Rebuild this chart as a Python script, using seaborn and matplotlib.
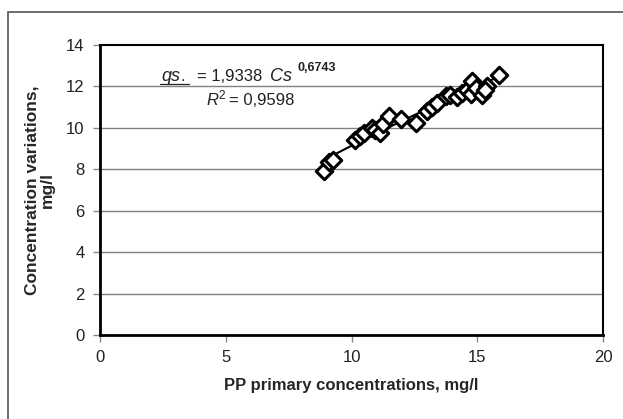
import numpy as np
import pandas as pd
import matplotlib
matplotlib.use("Agg")
import matplotlib.pyplot as plt
import seaborn as sns
from matplotlib.lines import Line2D
from matplotlib.patches import Rectangle

# ---- data ----
cs_primary = [8.90, 9.10, 9.25, 10.15, 10.35, 10.50, 10.80, 10.95, 11.15, 11.25,
              11.50, 11.95, 12.55, 13.00, 13.20, 13.40, 13.75, 13.90, 14.20, 14.40,
              14.60, 14.75, 14.80, 14.95, 15.20, 15.40, 15.30, 15.85]
qs_variation = [7.90, 8.35, 8.45, 9.40, 9.60, 9.75, 10.00, 9.90, 9.75, 10.20,
                10.55, 10.45, 10.25, 10.80, 11.00, 11.20, 11.55, 11.60, 11.50, 11.70,
                11.85, 11.65, 12.25, 11.90, 11.60, 12.00, 11.85, 12.55]
fit_a = 1.9338
fit_b = 0.6743
r2_text = "0,9598"
x_ticks = [0, 5, 10, 15, 20]
y_ticks = [0, 2, 4, 6, 8, 10, 12, 14]
x_label = "PP primary concentrations, mg/l"
y_label = "Concentration variations,\nmg/l"

df = pd.DataFrame({"x": cs_primary, "y": qs_variation})
xs = np.linspace(min(cs_primary), max(cs_primary), 60)
trend = pd.DataFrame({"x": xs, "y": fit_a * xs ** fit_b})

sns.set_theme(style="white")
plt.rcParams["font.family"] = ["Liberation Sans", "DejaVu Sans"]

W, H = 623, 419
fig = plt.figure(figsize=(W / 100, H / 100), dpi=100)
ax = fig.add_axes([100 / W, 1 - 335 / H, (603 - 100) / W, (335 - 45) / H])

# outer chart frame
fig.patches.append(Rectangle((8 / W, -0.05), 1.2, 1 - 12 / H + 0.05,
                             transform=fig.transFigure, fill=False,
                             edgecolor="#555555", linewidth=1.2))

for yv in y_ticks[1:-1]:
    ax.axhline(yv, color="#808080", linewidth=1.0, zorder=0)

sns.lineplot(data=trend, x="x", y="y", ax=ax, color="black", linewidth=1.5,
             zorder=2, legend=False)
sns.scatterplot(data=df, x="x", y="y", ax=ax, marker="D", s=70,
                facecolor="white", edgecolor="black", linewidth=2.2,
                zorder=3, legend=False)

ax.set_xlim(0, 20)
ax.set_ylim(0, 14)
ax.set_xticks(x_ticks)
ax.set_yticks(y_ticks)
ax.set_xticklabels([str(v) for v in x_ticks], fontsize=12, color="#222222")
ax.set_yticklabels([str(v) for v in y_ticks], fontsize=12, color="#222222")
ax.tick_params(axis="both", direction="out", length=5, width=1, color="#888888",
               bottom=True, left=True, pad=6)
ax.set_xlabel(x_label, fontsize=12, fontweight="bold", labelpad=9)
ax.set_ylabel(y_label, fontsize=12.5, fontweight="bold", labelpad=8,
              linespacing=1.0)
for side, sp in ax.spines.items():
    sp.set_visible(True)
    sp.set_color("black")
    sp.set_linewidth(2.0 if side in ("left", "bottom") else 1.5)

# equation text
def fx(px):
    return px / W

def fy(py):
    return 1 - py / H

fig.text(fx(161), fy(81), "qs", fontsize=13, style="italic", color="#222222")
fig.text(fx(180), fy(81), ".", fontsize=12, color="#222222")
fig.add_artist(Line2D([fx(160), fx(189)], [fy(84), fy(84)],
                      transform=fig.transFigure, color="#222222", linewidth=0.9))
fig.text(fx(197), fy(81), "= 1,9338", fontsize=12, color="#222222")
fig.text(fx(270), fy(81), "Cs", fontsize=13, style="italic", color="#222222")
fig.text(fx(297), fy(71), "0,6743", fontsize=9, fontweight="bold", color="#222222")
fig.text(fx(206), fy(105), "R", fontsize=12, style="italic", color="#222222")
fig.text(fx(218), fy(99), "2", fontsize=8.5, color="#222222")
fig.text(fx(229), fy(105), "= " + r2_text, fontsize=12, color="#222222")

fig.savefig("out.png", dpi=100, facecolor="white")
